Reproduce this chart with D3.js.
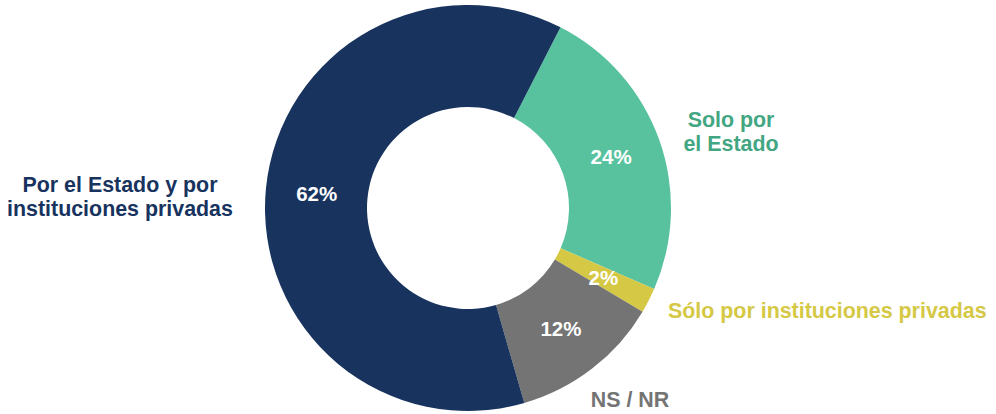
<!DOCTYPE html>
<html>
<head>
<meta charset="utf-8">
<script src="https://cdn.jsdelivr.net/npm/d3@7"></script>
<style>
  html, body { margin: 0; padding: 0; background: #ffffff; }
  svg { display: block; }
  text { font-family: "Liberation Sans", Arial, sans-serif; font-weight: bold; }
</style>
</head>
<body>
<svg id="chart" width="996" height="414"></svg>
<script>
// Data (clockwise order, starting at upper right)
const categories = ["Solo por el Estado", "Sólo por instituciones privadas", "NS / NR", "Por el Estado y por instituciones privadas"];
const values = [24, 2, 12, 62];
const valueLabels = ["24%", "2%", "12%", "62%"];
const colors = ["#58C29F", "#D5C845", "#737473", "#17335E"];
const labelColors = ["#43A682", "#D5C845", "#737473", "#17335E"];

const width = 996, height = 414;
const cx = 468, cy = 208;
const outerR = 203, innerR = 101;
const startDeg = 27.1;

const svg = d3.select("#chart");
const g = svg.append("g").attr("transform", `translate(${cx},${cy})`);

const data = categories.map((c, i) => ({ name: c, value: values[i], label: valueLabels[i], color: colors[i], lc: labelColors[i] }));

const pie = d3.pie()
  .value(d => d.value)
  .sort(null)
  .startAngle(startDeg * Math.PI / 180)
  .endAngle(startDeg * Math.PI / 180 + 2 * Math.PI);

const arcs = pie(data);
const arc = d3.arc().innerRadius(innerR).outerRadius(outerR);
const labelArc = d3.arc().innerRadius(152).outerRadius(152);

g.selectAll("path.slice")
  .data(arcs)
  .enter().append("path")
  .attr("class", "slice")
  .attr("d", arc)
  .attr("fill", d => d.data.color);

g.selectAll("text.pct")
  .data(arcs)
  .enter().append("text")
  .attr("class", "pct")
  .attr("transform", d => {
    const [x, y] = labelArc.centroid(d);
    return `translate(${x},${y})`;
  })
  .attr("text-anchor", "middle")
  .attr("dy", "0.36em")
  .attr("fill", "#ffffff")
  .attr("font-size", 20.5)
  .text(d => d.data.label);

// Category labels placed outside
const outside = [
  { i: 0, lines: ["Solo por", "el Estado"], x: 731, y: 127, anchor: "middle" },
  { i: 1, lines: ["Sólo por instituciones privadas"], x: 668, y: 318, anchor: "start" },
  { i: 2, lines: ["NS / NR"], x: 630, y: 407, anchor: "middle" },
  { i: 3, lines: ["Por el Estado y por", "instituciones privadas"], x: 120, y: 192, anchor: "middle" }
];

outside.forEach(o => {
  const t = svg.append("text")
    .attr("x", o.x)
    .attr("y", o.y)
    .attr("text-anchor", o.anchor)
    .attr("font-size", 21.4)
    .attr("fill", data[o.i].lc);
  o.lines.forEach((ln, k) => {
    t.append("tspan")
      .attr("x", o.x)
      .attr("dy", k === 0 ? 0 : 23.5)
      .text(ln);
  });
});
</script>
</body>
</html>
